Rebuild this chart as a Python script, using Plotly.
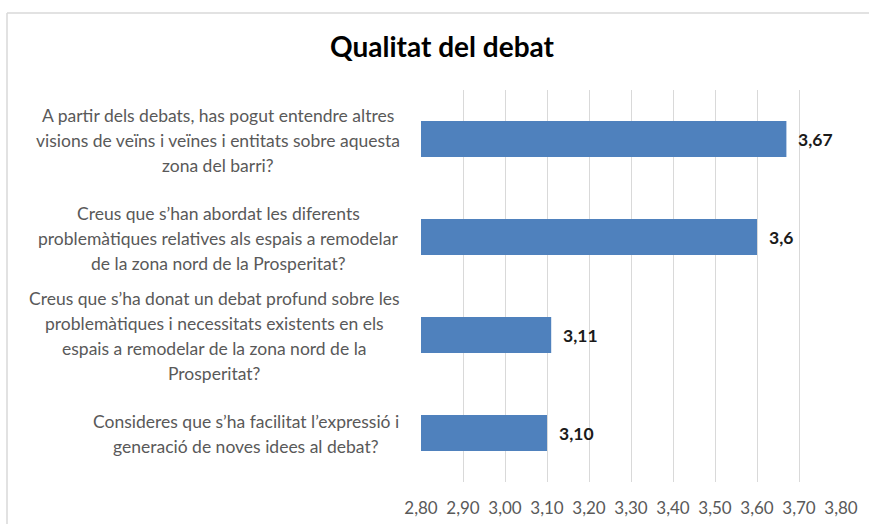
import plotly.graph_objects as go

# ---- data ----
categories = [
    "A partir dels debats, has pogut entendre altres\nvisions de veïns i veïnes i entitats sobre aquesta\nzona del barri?",
    "Creus que s’han abordat les diferents\nproblemàtiques relatives als espais a remodelar\nde la zona nord de la Prosperitat?",
    "Creus que s’ha donat un debat profund sobre les\nproblemàtiques i necessitats existents en els\nespais a remodelar de la zona nord de la\nProsperitat?",
    "Consideres que s’ha facilitat l’expressió i\ngeneració de noves idees al debat?",
]
values = [3.67, 3.60, 3.11, 3.10]
value_labels = ["3,67", "3,6", "3,11", "3,10"]
x_ticks = [2.80, 2.90, 3.00, 3.10, 3.20, 3.30, 3.40, 3.50, 3.60, 3.70, 3.80]
title = "Qualitat del debat"

# ---- layout constants ----
W, H = 869, 524
L, R, T, B = 421, 28, 90, 42
PW = W - L - R
PH = H - T - B
FONT = "Lato, sans-serif"
LABEL_CENTERS_PX = [218, 218, 214, 246]   # horizontal centre of each label block
LINE_SPACING = 25

ids = list(range(len(categories)))

fig = go.Figure()
fig.add_trace(go.Bar(
    y=ids, x=values, orientation="h",
    marker=dict(color="#4F81BD", line=dict(width=0)),
    hoverinfo="skip",
))

annotations = []
# value labels
for i, (v, t) in enumerate(zip(values, value_labels)):
    annotations.append(dict(
        x=v, y=i, xref="x", yref="y", text=f"<b>{t}</b>", showarrow=False,
        xanchor="left", yanchor="middle", xshift=10,
        font=dict(family=FONT, size=17.5, color="#1a1a1a"),
    ))
# category labels (one annotation per line to reproduce line spacing)
for i, cat in enumerate(categories):
    lines = cat.split("\n")
    n = len(lines)
    cx = (LABEL_CENTERS_PX[i] - L) / PW
    for j, line in enumerate(lines):
        off = (j - (n - 1) / 2) * LINE_SPACING
        annotations.append(dict(
            x=cx, y=i, xref="paper", yref="y", text=line, showarrow=False,
            xanchor="center", yanchor="middle", yshift=-off - 1,
            font=dict(family=FONT, size=17.5, color="#595959"),
        ))

fig.update_layout(
    width=W, height=H,
    margin=dict(l=L, r=R, t=T, b=B, pad=0, autoexpand=False),
    paper_bgcolor="white", plot_bgcolor="white",
    separators=",.",
    showlegend=False,
    bargap=0.633,
    title=dict(text=f"<b>{title}</b>", x=442 / W, xanchor="center",
               y=1 - 47 / H, yanchor="middle",
               font=dict(family=FONT, size=28, color="#000000")),
    xaxis=dict(range=[2.8, 3.8], tickvals=x_ticks, tickformat=".2f",
               showgrid=True, gridcolor="#D9D9D9", gridwidth=1,
               zeroline=False, showline=False, ticks="",
               ticklabelstandoff=14, automargin=False,
               tickfont=dict(family=FONT, size=17, color="#595959"),
               fixedrange=True),
    yaxis=dict(tickvals=ids, showticklabels=False, autorange="reversed",
               showgrid=False, zeroline=False, showline=False, ticks="",
               fixedrange=True),
    annotations=annotations,
    shapes=[
        dict(type="line", xref="paper", yref="paper",
             x0=(7 - L) / PW, x1=(7 - L) / PW, y0=(H - B - 540) / PH, y1=(H - B - 13) / PH,
             line=dict(color="#D9D9D9", width=1.5)),
        dict(type="line", xref="paper", yref="paper",
             x0=(7 - L) / PW, x1=(880 - L) / PW, y0=(H - B - 13) / PH, y1=(H - B - 13) / PH,
             line=dict(color="#D9D9D9", width=1.5)),
    ],
)

fig.write_html("out.html", config={"displayModeBar": False},
               post_script="document.body.style.margin='0';document.body.style.overflow='hidden';")
